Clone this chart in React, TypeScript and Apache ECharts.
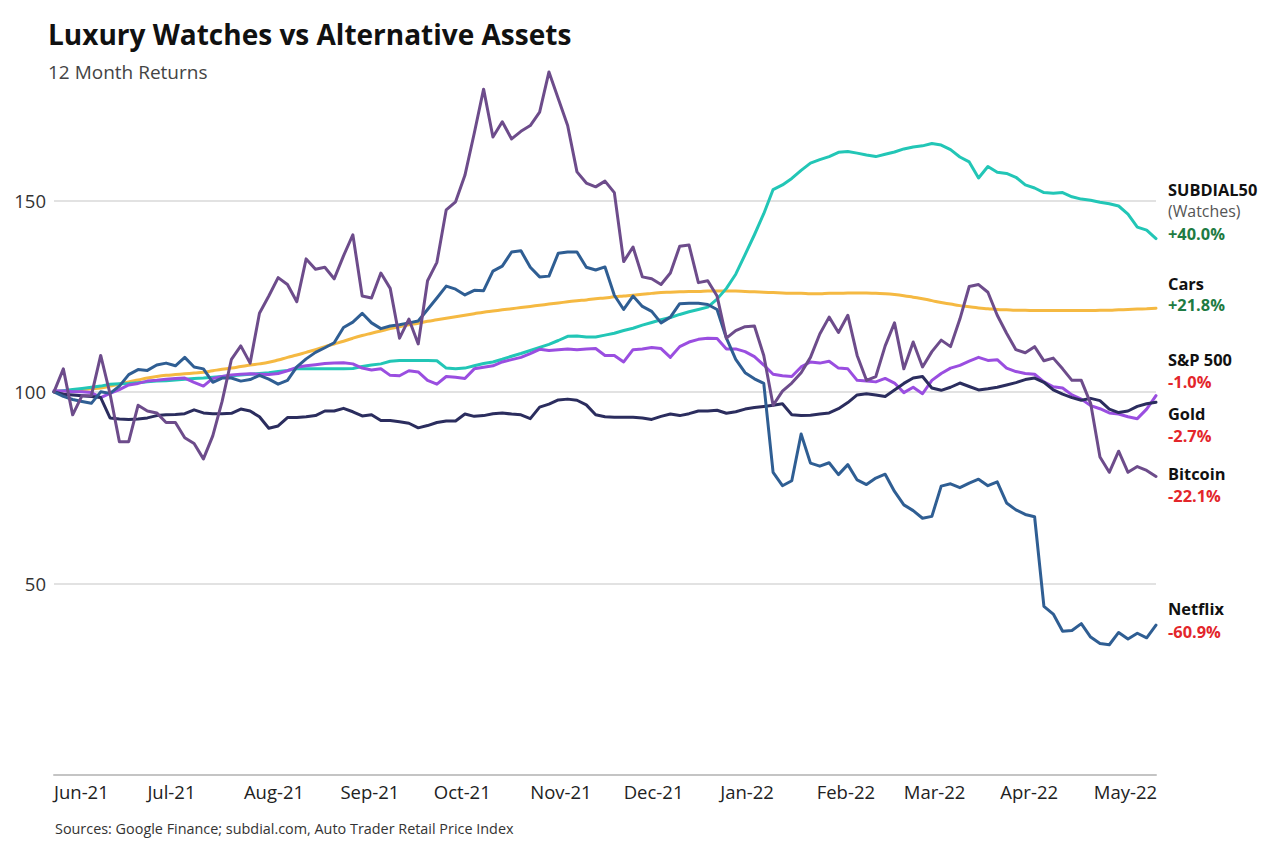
import React, { useEffect, useRef } from 'react';
import * as echarts from 'echarts';

// ---- axis / sampling ----
const START_DATE = '2021-06-01';
const END_DATE = '2022-05-21';
const SAMPLE_STEP_DAYS = 3;
const MONTH_NAMES = ['Jan', 'Feb', 'Mar', 'Apr', 'May', 'Jun', 'Jul', 'Aug', 'Sep', 'Oct', 'Nov', 'Dec'];
const Y_MIN = 0;
const Y_MAX = 190;
const Y_INTERVAL = 50;

// ---- series values (index, base 100), one value every 3 days from 1 Jun 2021 ----
const subdial50 = [100,100.3,100.6,100.9,101.2,101.5,102,102.1,102.2,102.4, 102.6,102.8,102.9,103.1,103.3,103.5,103.6,103.8,104,104.2, 104.4,104.6,104.8,105,105.3,105.6,106,106,106,106, 106,106,106.1,106.6,107,107.3,108,108.2,108.2,108.2, 108.2,108.1,106.2,106,106.2,106.8,107.4,107.8,108.5,109.3, 110,110.8,111.6,112.4,113.4,114.5,114.6,114.3,114.3,114.8, 115.3,116,116.6,117.4,118.1,118.8,119.4,120.2,120.9,121.5, 122.1,124.2,127,130.7,135.8,141,146.5,152.8,154,155.7, 157.8,159.7,160.6,161.4,162.5,162.7,162.3,161.8,161.4,162, 162.6,163.4,163.9,164.2,164.8,164.4,163.2,161.3,160,155.8, 158.8,157.3,157,156,154,153.2,152,151.8,152,150.9, 150.3,150,149.5,149.1,148.5,146.4,143,142.2,140];

const cars = [100,100.2,100.4,100.6,100.8,101,101.5,102,102.6,103.1, 103.6,104,104.3,104.5,104.7,104.9,105.1,105.5,105.9,106.2, 106.6,107,107.3,107.7,108.3,109,109.6,110.3,111,111.8, 112.5,113.2,114,114.7,115.3,115.9,116.5,117,117.5,117.9, 118.4,118.8,119.2,119.6,120,120.4,120.8,121.1,121.4,121.7, 122,122.3,122.6,122.9,123.2,123.5,123.8,124,124.3,124.5, 124.8,125,125.2,125.5,125.7,125.9,126,126.1,126.2,126.2, 126.3,126.3,126.3,126.3,126.2,126.1,126,125.9,125.8,125.7, 125.7,125.6,125.6,125.7,125.7,125.8,125.8,125.8,125.7,125.6, 125.4,125.1,124.7,124.3,123.8,123.3,122.9,122.5,122.2,121.9, 121.7,121.5,121.4,121.3,121.3,121.2,121.2,121.2,121.2,121.2, 121.2,121.2,121.3,121.3,121.4,121.5,121.6,121.7,121.8];

const sp500 = [100.3,100.2,100,100,99.8,98.5,99.6,100.6,101.8,102.2, 102.8,103,103.3,103.5,103.6,102.5,101.5,103.5,104,104.4, 104.6,104.7,104.6,104.5,104.8,105.5,106.4,106.8,107.1,107.4, 107.5,107.6,107.3,106.2,105.7,106,104.3,104.2,105.5,105.2, 103,102,104,103.8,103.5,106,106.4,106.8,107.8,108.4, 109,110,111.1,110.8,111,111.2,111,111.2,111.3,109.5, 109.5,107.8,111,111.2,111.6,111.3,109,111.8,113,113.7, 114,113.9,111.2,111.2,110.5,109.2,107,104.6,104.2,104, 106.5,107.8,107.5,108,106.2,106,103,102.8,102.6,103.5, 102.3,99.8,101.2,99.5,103,104.8,106.2,106.9,108,109, 108.2,108.4,106.2,105.3,104.8,104.6,102.6,101.3,101,99.2, 98.1,96.4,95.6,94.5,94.2,93.5,93,95.5,99];

const gold = [100,99.4,99.2,99,98.8,98.5,93.2,92.9,92.8,92.9, 93.2,93.8,94,94.1,94.3,95.3,94.5,94.3,94.3,94.4, 95.5,95,93.5,90.5,91.1,93.3,93.3,93.5,93.8,95, 95,95.7,94.8,93.7,94,92.5,92.5,92.2,91.8,90.6, 91.2,92,92.4,92.4,94.2,93.6,93.8,94.3,94.5,94.2, 94,93,96,96.8,97.9,98.1,97.8,96.6,94,93.5, 93.4,93.4,93.4,93.2,92.8,93.6,94.2,93.8,94.3,95, 95,95.2,94.4,94.8,95.5,95.9,96.2,96.5,96.9,94, 93.8,93.9,94.2,94.5,95.6,97.2,99.2,99.5,99.2,98.8, 100.5,102.2,103.6,104,101,100.4,101.2,102.3,101.4,100.5, 100.8,101.2,101.8,102.4,103.2,103.6,102.5,100.5,99.4,98.5, 97.8,98.3,97.7,95.5,94.6,95,96.2,96.9,97.3];

const bitcoin = [100,106,94,99,99,109.5,99.5,87,87,96.5, 95,94.5,92,92,88,86.5,82.5,88.5,97.5,108.5, 112,107.5,120.5,125,129.8,128,123.5,134.7,132,132.5, 129.5,135.5,141,125,124.5,131,127,114,119,112.5, 129,133.8,147.5,149.6,156.5,167.5,179,166.5,170.5,166, 168,169.5,173,183.5,176.5,169.5,157.4,154.5,153.5,155, 152,134,137.8,130,129.5,128,131,138,138.3,128.5, 129,125,114,116,117,117.2,109.5,96.5,100.2,102.3, 105,109,115.1,119.5,115.5,120,109.5,103,104,112, 118,106,113,106.5,110.5,113.5,111.8,119,127.5,128, 126,120,115.3,111,110.2,111.8,108.1,108.8,106,103, 103,97,83,79,84.5,79,80.5,79.5,77.9];

const netflix = [100,98.8,98,97.5,97,100,99.6,101.5,104.5,105.8, 105.6,107,107.5,106.8,109,106.5,106,102.5,103.6,103.6, 102.8,103.2,104.3,103.3,102,103,106.5,108.6,110.3,111.5, 112.8,116.8,118.2,120.5,118,116.5,117.2,117.5,118,118.5, 121.5,124.5,127.6,126.8,125.3,126.5,126.4,131.5,132.8,136.5, 136.8,132.5,130,130.2,136.2,136.5,136.5,132.5,131.8,132.6, 125.2,121.5,125,122.3,121,118,119.5,123,123.1,123.1, 122.8,121.5,114,108.5,105,103.4,102.2,79,75.5,76.8, 89,81.4,80.6,81.5,78.4,81,77,75.8,77.5,78.5, 74,70.5,69,67,67.5,75.4,76,75,76.2,77.2, 75.5,76.5,71,69.2,68,67.4,44,42,37.5,37.7, 39.5,36,34.3,34,37.2,35.5,37,35.8,39.1];

// ---- end labels ----
const endLabels = [
  { name: 'SUBDIAL50', note: '(Watches)', change: '+40.0%' },
  { name: 'Cars', note: '', change: '+21.8%' },
  { name: 'S&P 500', note: '', change: '-1.0%' },
  { name: 'Gold', note: '', change: '-2.7%' },
  { name: 'Bitcoin', note: '', change: '-22.1%' },
  { name: 'Netflix', note: '', change: '-60.9%' },
];

const TITLE = 'Luxury Watches vs Alternative Assets';
const SUBTITLE = '12 Month Returns';
const SOURCE = 'Sources: Google Finance; subdial.com, Auto Trader Retail Price Index';

const FONT = '"Open Sans", "Noto Sans", sans-serif';

function buildDays(): string[] {
  const out: string[] = [];
  const s = Date.parse(START_DATE + 'T00:00:00Z');
  const e = Date.parse(END_DATE + 'T00:00:00Z');
  for (let t = s; t <= e; t += 86400000) {
    out.push(new Date(t).toISOString().slice(0, 10));
  }
  return out;
}

export default function App() {
  const ref = useRef<HTMLDivElement>(null);

  useEffect(() => {
    document.body.style.margin = '0';
    if (!ref.current) return;
    const chart = echarts.init(ref.current, undefined, { renderer: 'svg' });
    const days = buildDays();
    const toData = (vals: number[]) => vals.map((v, i) => [i * SAMPLE_STEP_DAYS, v]);

    const seriesDefs = [
      { name: 'Cars', data: cars, color: '#f5b942', smooth: true },
      { name: 'SUBDIAL50', data: subdial50, color: '#22c6b6', smooth: false },
      { name: 'S&P 500', data: sp500, color: '#9a4ee0', smooth: false },
      { name: 'Gold', data: gold, color: '#2b2d5e', smooth: false },
      { name: 'Netflix', data: netflix, color: '#2f5e93', smooth: false },
      { name: 'Bitcoin', data: bitcoin, color: '#6d4c8b', smooth: false },
    ];

    const labelY = [
      [189, 211, 233],
      [283, 0, 304],
      [359, 0, 381],
      [413, 0, 435],
      [473, 0, 495],
      [608, 0, 631],
    ];
    const graphics: any[] = [
      { type: 'text', x: 48, y: 34, style: { text: TITLE, fill: '#111', fontSize: 28, fontWeight: 'bold', fontFamily: FONT, verticalAlign: 'middle' } },
      { type: 'text', x: 48, y: 72, style: { text: SUBTITLE, fill: '#444', fontSize: 19, fontFamily: FONT, verticalAlign: 'middle' } },
      { type: 'text', x: 55, y: 828, style: { text: SOURCE, fill: '#333', fontSize: 14.4, fontFamily: FONT, verticalAlign: 'middle' } },
    ];
    endLabels.forEach((l, i) => {
      const [yn, ynote, yc] = labelY[i];
      graphics.push({ type: 'text', x: 1168, y: yn, style: { text: l.name, fill: '#111', fontSize: 16.4, fontWeight: 'bold', fontFamily: FONT, verticalAlign: 'middle' } });
      if (l.note) {
        graphics.push({ type: 'text', x: 1168, y: ynote, style: { text: l.note, fill: '#555', fontSize: 15.9, fontFamily: FONT, verticalAlign: 'middle' } });
      }
      graphics.push({ type: 'text', x: 1168, y: yc, style: { text: l.change, fill: l.change.startsWith('+') ? '#1e7b43' : '#e3262b', fontSize: 16.4, fontWeight: 'bold', fontFamily: FONT, verticalAlign: 'middle' } });
    });

    chart.setOption({
      animation: false,
      backgroundColor: '#ffffff',
      textStyle: { fontFamily: FONT },
      grid: { left: 54, right: 111, top: 47, bottom: 90, containLabel: false },
      xAxis: {
        type: 'category',
        data: days,
        boundaryGap: false,
        axisLine: { show: true, lineStyle: { color: '#c4c4c4', width: 2 } },
        axisTick: { show: false },
        splitLine: { show: false },
        axisLabel: {
          interval: (_idx: number, value: string) => value.endsWith('-01'),
          formatter: (value: string) => MONTH_NAMES[parseInt(value.slice(5, 7), 10) - 1] + '-' + value.slice(2, 4),
          align: 'left',
          margin: 7,
          fontSize: 18.5,
          color: '#222',
          fontFamily: FONT,
        },
      },
      yAxis: {
        type: 'value',
        min: Y_MIN,
        max: Y_MAX,
        interval: Y_INTERVAL,
        axisLine: { show: false },
        axisTick: { show: false },
        axisLabel: { showMinLabel: false, showMaxLabel: false, fontSize: 18.5, color: '#333', margin: 8, fontFamily: FONT },
        splitLine: { show: true, showMinLine: false, showMaxLine: false, lineStyle: { color: '#d9d9d9', width: 1.5 } },
      },
      series: seriesDefs.map((s) => ({
        name: s.name,
        type: 'line',
        data: toData(s.data),
        showSymbol: false,
        symbol: 'none',
        smooth: s.smooth,
        lineStyle: { color: s.color, width: 3, join: 'round', cap: 'round' },
        itemStyle: { color: s.color },
        emphasis: { disabled: true },
      })),
      graphic: graphics,
    });

    return () => chart.dispose();
  }, []);

  return <div ref={ref} style={{ width: 1267, height: 865 }} />;
}
